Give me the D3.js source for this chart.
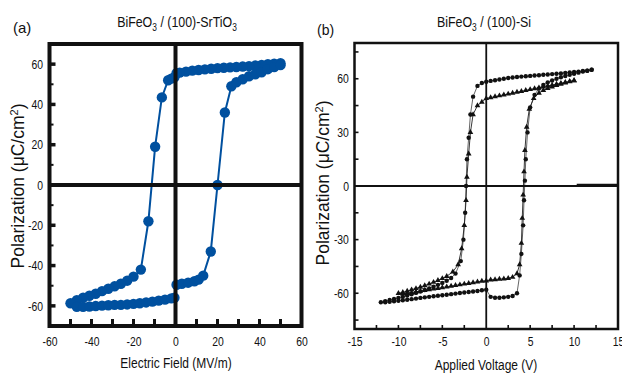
<!DOCTYPE html>
<html>
<head>
<meta charset="utf-8">
<script src="https://cdn.jsdelivr.net/npm/d3@7"></script>
<style>
  body { margin: 0; background: #fff; }
  text { font-family: "Liberation Sans", Arial, sans-serif; fill: #111; }
</style>
</head>
<body>
<div id="chart"></div>
<script>
// panel (a): BiFeO3 on SrTiO3, one loop, field in MV/m
const fieldDownA = [50, 47, 44, 41, 38, 35, 32, 29, 26, 23, 20, 17, 14, 11, 8, 5, 2, 0.5, -0.5, -2, -3.5, -6.5, -9.7, -12.9, -16.5, -20, -23, -26, -29, -32, -35, -38, -41, -44, -47, -50];
const polDownA = [60.5, 60.2, 60, 59.6, 59.3, 59, 58.8, 58.6, 58.4, 58.2, 58, 57.7, 57.4, 57.1, 56.8, 56.3, 55.8, 55.5, 53.5, 52.8, 52, 43.5, 19, -18, -42, -45.5, -47.5, -49, -50.3, -51.5, -52.7, -54, -55, -56, -57.2, -58.7];
const fieldUpA = [-47, -44, -41, -38, -35, -32, -29, -26, -23, -20, -17, -14, -11, -8, -5, -2, -0.5, 0.5, 3, 6, 9, 11, 13.2, 16.8, 20, 23.5, 26.6, 29, 32, 35, 38, 41, 44, 47, 50];
const polUpA = [-60.5, -60.5, -60.3, -60.1, -59.9, -59.7, -59.5, -59.5, -59.3, -59, -58.7, -58.3, -57.9, -57.4, -56.9, -56.3, -56, -49.5, -49, -48.5, -47.8, -47, -45, -33, 0, 36, 49, 51, 52.5, 54, 55, 56, 57.5, 58.5, 59.5];

// panel (b): BiFeO3 on Si, two loops, voltage in V
const voltDown1 = [12, 11.5, 11, 10.5, 10, 9.5, 9, 8.5, 8, 7.5, 7, 6.5, 6, 5.5, 5, 4.5, 4, 3.5, 3, 2.5, 2, 1.5, 1, 0.5, 0, -0.5, -1, -1.5, -1.8, -2, -2.2, -2.3, -2.4, -2.6, -2.9, -3.5, -4, -4.5, -5, -5.5, -6, -6.5, -7, -7.5, -8, -8.5, -9, -9.5, -10, -10.5, -11, -11.5, -12];
const polDown1 = [65, 64.5, 64.3, 64, 63.8, 63.5, 63.3, 63, 62.8, 62.6, 62.4, 62.2, 62, 61.8, 61.6, 61.4, 61.2, 61, 60.7, 60.4, 60, 59.6, 59.2, 58.8, 58.3, 57.6, 56, 50, 40, 27, 15, 0, -15, -30, -42, -49, -51.5, -53, -54.2, -55.3, -56.3, -57.3, -58.2, -59, -59.8, -60.6, -61.3, -62, -62.6, -63.2, -63.8, -64.4, -65];
const voltUp1 = [-11.5, -11, -10.5, -10, -9.5, -9, -8.5, -8, -7.5, -7, -6.5, -6, -5.5, -5, -4.5, -4, -3.5, -3, -2.5, -2, -1.5, -1, -0.5, 0, 0.5, 1, 1.5, 2, 2.5, 3, 3.5, 3.8, 4, 4.2, 4.3, 4.4, 4.5, 4.7, 5, 5.5, 6, 6.5, 7, 7.5, 8, 8.5, 9, 9.5, 10, 10.5, 11, 11.5, 12];
const polUp1 = [-65, -64.8, -64.5, -64.2, -63.9, -63.6, -63.3, -63, -62.6, -62.3, -62, -61.7, -61.4, -61.1, -60.8, -60.5, -60.2, -59.9, -59.6, -59.3, -59, -58.7, -58.3, -58, -62, -62.5, -62.5, -62.3, -62, -61.5, -60, -50, -38, -22, -8, 3, 15, 30, 44, 51, 54.5, 56.5, 58, 59, 60, 60.8, 61.5, 62.2, 62.8, 63.4, 64, 64.5, 65];
const voltDown2 = [10, 9.5, 9, 8.5, 8, 7.5, 7, 6.5, 6, 5.5, 5, 4.5, 4, 3.5, 3, 2.5, 2, 1.5, 1, 0.5, 0, -0.5, -1, -1.5, -1.8, -2, -2.2, -2.3, -2.5, -2.8, -3.2, -3.8, -4.5, -5, -5.5, -6, -6.5, -7, -7.5, -8, -8.5, -9, -9.5, -10];
const polDown2 = [59, 58.5, 58, 57.5, 57, 56.5, 56, 55.5, 55, 54.5, 54, 53.5, 53, 52.5, 52, 51.5, 51, 50.5, 50, 49.5, 49, 47, 45, 40, 30, 18, 5, -8, -22, -35, -44, -48, -50.5, -51.7, -52.8, -53.8, -54.8, -55.7, -56.5, -57.3, -58, -58.8, -59.5, -60];
const voltUp2 = [-9.5, -9, -8.5, -8, -7.5, -7, -6.5, -6, -5.5, -5, -4.5, -4, -3.5, -3, -2.5, -2, -1.5, -1, -0.5, 0, 0.5, 1, 1.5, 2, 2.5, 3, 3.5, 3.8, 4, 4.1, 4.2, 4.3, 4.4, 4.6, 4.9, 5.4, 6, 6.5, 7, 7.5, 8, 8.5, 9, 9.5, 10];
const polUp2 = [-60.3, -60, -59.6, -59.2, -58.8, -58.4, -58, -57.6, -57.2, -56.8, -56.4, -56, -55.6, -55.2, -54.8, -54.4, -54, -53.6, -53.2, -53, -52.5, -52.3, -52.1, -51.9, -51.6, -51, -49, -44, -32, -18, -5, 8, 20, 33, 43, 49, 52, 53.5, 54.6, 55.5, 56.3, 57, 57.7, 58.4, 59];

// tick values
const xTicksA = [-60, -40, -20, 0, 20, 40, 60];
const yTicksA = [-60, -40, -20, 0, 20, 40, 60];
const xMinorA = [-50, -40, -30, -20, -10, 10, 20, 30, 40, 50];
const yMajorA = [-60, -40, -20, 20, 40, 60];
const yMinorA = [-50, -30, -10, 10, 30, 50];
const xTicksB = [-15, -10, -5, 0, 5, 10, 15];
const yTicksB = [-60, -30, 0, 30, 60];
const xMinorB = [-12.5, -10, -7.5, -5, -2.5, 2.5, 5, 7.5, 10, 12.5];
const yMinorB = [-75, -60, -45, -30, -15, 15, 30, 45, 60, 75];

const blue = "#00509f";
const narrow = "scale(0.8,1)";   // the source figure's lettering is condensed

var svg = d3.select("#chart").append("svg").attr("width", 622).attr("height", 374);

// text helper: condensed label at (x, y)
function label(x, y, size, html) {
    return svg.append("text")
        .attr("transform", "translate(" + x + "," + y + ") " + narrow)
        .attr("text-anchor", "middle")
        .attr("font-size", size)
        .html(html);
}

// ---------- panel (a)
const xa = d3.scaleLinear().domain([-60, 60]).range([49.5, 301.5]);
const ya = d3.scaleLinear().domain([-70, 70]).range([326, 44]);

const loopA = d3.zip(fieldDownA, polDownA).concat(d3.zip(fieldUpA, polUpA));

svg.append("path")
    .datum(loopA)
    .attr("fill", "none")
    .attr("stroke", blue)
    .attr("stroke-width", 2)
    .attr("d", d3.line().x(d => xa(d[0])).y(d => ya(d[1])));

svg.append("g").selectAll("circle")
    .data(loopA)
    .join("circle")
    .attr("cx", d => xa(d[0]))
    .attr("cy", d => ya(d[1]))
    .attr("r", 5.2)
    .attr("fill", blue);

// zero lines + frame
svg.append("line")
    .attr("x1", xa(0)).attr("x2", xa(0))
    .attr("y1", ya(70)).attr("y2", ya(-70))
    .attr("stroke", "#111").attr("stroke-width", 4);
svg.append("line")
    .attr("x1", xa(-60)).attr("x2", xa(60))
    .attr("y1", ya(0)).attr("y2", ya(0))
    .attr("stroke", "#111").attr("stroke-width", 4);
svg.append("rect")
    .attr("x", xa(-60)).attr("y", ya(70))
    .attr("width", xa(60) - xa(-60)).attr("height", ya(-70) - ya(70))
    .attr("fill", "none").attr("stroke", "#111").attr("stroke-width", 4);

// inner ticks
svg.append("g").selectAll("line")
    .data(xMinorA)
    .join("line")
    .attr("x1", d => xa(d)).attr("x2", d => xa(d))
    .attr("y1", ya(-70)).attr("y2", ya(-70) - 7)
    .attr("stroke", "#111").attr("stroke-width", 3);
svg.append("g").selectAll("line")
    .data(yMajorA)
    .join("line")
    .attr("x1", xa(-60)).attr("x2", xa(-60) + 6)
    .attr("y1", d => ya(d)).attr("y2", d => ya(d))
    .attr("stroke", "#111").attr("stroke-width", 3.5);
svg.append("g").selectAll("line")
    .data(yMinorA)
    .join("line")
    .attr("x1", xa(-60)).attr("x2", xa(-60) + 4)
    .attr("y1", d => ya(d)).attr("y2", d => ya(d))
    .attr("stroke", "#111").attr("stroke-width", 2);

// tick labels
var axA = svg.append("g")
    .attr("transform", "translate(0," + ya(-70) + ")")
    .call(d3.axisBottom(xa).tickValues(xTicksA).tickSize(0).tickPadding(11).tickFormat(d => String(d)));
var ayA = svg.append("g")
    .attr("transform", "translate(" + xa(-60) + ",0)")
    .call(d3.axisLeft(ya).tickValues(yTicksA).tickSize(0).tickPadding(8).tickFormat(d => String(d)));
[axA, ayA].forEach(g => {
    g.select(".domain").remove();
    g.selectAll("text").attr("font-size", 13).attr("font-family", null).attr("fill", "#111").attr("transform", narrow);
});

label(176, 368, 15, "Electric Field (MV/m)");

svg.append("text")
    .attr("transform", "translate(24,186) rotate(-90)")
    .attr("text-anchor", "middle")
    .attr("font-size", 17.5)
    .html("Polarization (μC/cm<tspan dy='-6' font-size='11'>2</tspan><tspan dy='6'>)</tspan>");

label(177, 27, 15.5, "BiFeO<tspan dy='4' font-size='10.5'>3</tspan><tspan dy='-4'> / (100)-SrTiO</tspan><tspan dy='4' font-size='10.5'>3</tspan>");

svg.append("text")
    .attr("x", 13).attr("y", 33)
    .attr("font-size", 15)
    .text("(a)");

// ---------- panel (b)
const xb = d3.scaleLinear().domain([-15, 15]).range([354.5, 618]);
const yb = d3.scaleLinear().domain([-80, 80]).range([329, 43]);

const loop1 = d3.zip(voltDown1, polDown1).concat(d3.zip(voltUp1, polUp1));
const loop2 = d3.zip(voltDown2, polDown2).concat(d3.zip(voltUp2, polUp2));
const lineB = d3.line().x(d => xb(d[0])).y(d => yb(d[1]));

svg.append("path")
    .datum(loop2)
    .attr("fill", "none")
    .attr("stroke", "#222")
    .attr("stroke-width", 0.9)
    .attr("d", lineB);
svg.append("path")
    .datum(loop1)
    .attr("fill", "none")
    .attr("stroke", "#222")
    .attr("stroke-width", 0.7)
    .attr("d", lineB);

svg.append("g").selectAll("path")
    .data(loop2)
    .join("path")
    .attr("transform", d => "translate(" + xb(d[0]) + "," + yb(d[1]) + ")")
    .attr("d", d3.symbol(d3.symbolTriangle, 14))
    .attr("fill", "#111");

svg.append("g").selectAll("circle")
    .data(loop1)
    .join("circle")
    .attr("cx", d => xb(d[0]))
    .attr("cy", d => yb(d[1]))
    .attr("r", 2.2)
    .attr("fill", "#111");

svg.append("line")
    .attr("x1", xb(0)).attr("x2", xb(0))
    .attr("y1", yb(80)).attr("y2", yb(-80))
    .attr("stroke", "#111").attr("stroke-width", 1.8);
svg.append("line")
    .attr("x1", xb(-15)).attr("x2", xb(15))
    .attr("y1", yb(0)).attr("y2", yb(0))
    .attr("stroke", "#111").attr("stroke-width", 1.8);
// thicker stretch of the zero line at the right edge, as in the scan
svg.append("line")
    .attr("x1", xb(10.3)).attr("x2", xb(15))
    .attr("y1", yb(0) - 1).attr("y2", yb(0) - 1)
    .attr("stroke", "#111").attr("stroke-width", 2.5);
svg.append("rect")
    .attr("x", xb(-15)).attr("y", yb(80))
    .attr("width", xb(15) - xb(-15)).attr("height", yb(-80) - yb(80))
    .attr("fill", "none").attr("stroke", "#111").attr("stroke-width", 2.5);

svg.append("g").selectAll("line")
    .data(xMinorB)
    .join("line")
    .attr("x1", d => xb(d)).attr("x2", d => xb(d))
    .attr("y1", yb(-80)).attr("y2", yb(-80) - 4)
    .attr("stroke", "#111").attr("stroke-width", 1.6);
svg.append("g").selectAll("line")
    .data(yMinorB)
    .join("line")
    .attr("x1", xb(-15)).attr("x2", xb(-15) + 4)
    .attr("y1", d => yb(d)).attr("y2", d => yb(d))
    .attr("stroke", "#111").attr("stroke-width", 1.6);

var axB = svg.append("g")
    .attr("transform", "translate(0," + yb(-80) + ")")
    .call(d3.axisBottom(xb).tickValues(xTicksB).tickSize(0).tickPadding(8).tickFormat(d => String(d)));
var ayB = svg.append("g")
    .attr("transform", "translate(" + xb(-15) + ",0)")
    .call(d3.axisLeft(yb).tickValues(yTicksB).tickSize(0).tickPadding(7).tickFormat(d => String(d)));
[axB, ayB].forEach(g => {
    g.select(".domain").remove();
    g.selectAll("text").attr("font-size", 13).attr("font-family", null).attr("fill", "#111").attr("transform", narrow);
});

label(486, 370, 15, "Applied Voltage (V)");

svg.append("text")
    .attr("transform", "translate(329,183) rotate(-90)")
    .attr("text-anchor", "middle")
    .attr("font-size", 17.5)
    .html("Polarization (μC/cm<tspan dy='-6' font-size='11'>2</tspan><tspan dy='6'>)</tspan>");

label(484, 27, 15.5, "BiFeO<tspan dy='4' font-size='10.5'>3</tspan><tspan dy='-4'> / (100)-Si</tspan>");

svg.append("text")
    .attr("x", 317).attr("y", 35)
    .attr("font-size", 14)
    .text("(b)");
</script>
</body>
</html>
